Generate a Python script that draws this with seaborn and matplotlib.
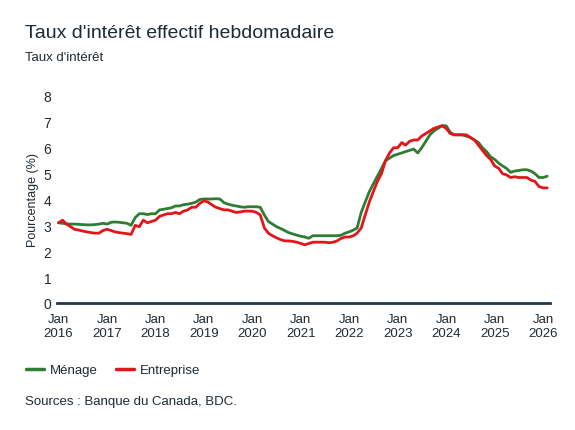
import matplotlib
matplotlib.use("Agg")
import matplotlib.pyplot as plt
import numpy as np
import pandas as pd
import seaborn as sns

# monthly readings, Jan 2016 .. Feb 2026
months = pd.date_range("2016-01-01", "2026-02-01", freq="MS")

menage = [
    3.10, 3.08, 3.06, 3.05, 3.05, 3.04, 3.03, 3.02, 3.02, 3.03, 3.05, 3.08,
    3.05, 3.12, 3.13, 3.12, 3.10, 3.08, 3.00, 3.30, 3.45, 3.45, 3.42, 3.45,
    3.45, 3.60, 3.62, 3.65, 3.68, 3.75, 3.75, 3.80, 3.82, 3.85, 3.90, 4.00,
    4.02, 4.02, 4.02, 4.03, 4.02, 3.88, 3.82, 3.78, 3.75, 3.72, 3.70, 3.72,
    3.72, 3.72, 3.70, 3.40, 3.15, 3.05, 2.95, 2.88, 2.80, 2.72, 2.67, 2.62,
    2.58, 2.55, 2.50, 2.60, 2.60, 2.60, 2.60, 2.60, 2.60, 2.60, 2.62, 2.70,
    2.75, 2.82, 2.90, 3.50, 3.90, 4.30, 4.60, 4.90, 5.20, 5.50, 5.60, 5.70,
    5.75, 5.80, 5.85, 5.90, 5.95, 5.80, 6.00, 6.25, 6.50, 6.65, 6.75, 6.85,
    6.85, 6.60, 6.50, 6.50, 6.50, 6.45, 6.40, 6.30, 6.20, 6.00, 5.85, 5.65,
    5.55, 5.40, 5.30, 5.20, 5.05, 5.10, 5.12, 5.15, 5.15, 5.10, 5.00, 4.85,
    4.85, 4.90,
]

entreprise = [
    3.10, 3.20, 3.05, 2.95, 2.85, 2.82, 2.78, 2.75, 2.72, 2.70, 2.70, 2.80,
    2.85, 2.80, 2.75, 2.72, 2.70, 2.68, 2.65, 3.00, 2.95, 3.20, 3.10, 3.15,
    3.20, 3.35, 3.40, 3.45, 3.45, 3.50, 3.45, 3.55, 3.60, 3.70, 3.70, 3.85,
    3.95, 3.90, 3.80, 3.70, 3.65, 3.60, 3.60, 3.55, 3.50, 3.52, 3.55, 3.55,
    3.55, 3.50, 3.40, 2.90, 2.70, 2.60, 2.52, 2.45, 2.40, 2.40, 2.38, 2.35,
    2.30, 2.25, 2.30, 2.35, 2.35, 2.35, 2.35, 2.33, 2.35, 2.40, 2.50, 2.55,
    2.55, 2.60, 2.70, 2.90, 3.40, 3.90, 4.30, 4.70, 5.00, 5.50, 5.80, 6.00,
    6.00, 6.20, 6.10, 6.25, 6.30, 6.30, 6.45, 6.55, 6.65, 6.75, 6.80, 6.85,
    6.75, 6.55, 6.50, 6.50, 6.50, 6.50, 6.40, 6.30, 6.10, 5.90, 5.70, 5.55,
    5.30, 5.20, 5.00, 4.95, 4.85, 4.88, 4.85, 4.85, 4.85, 4.75, 4.70, 4.50,
    4.45, 4.45,
]

series_names = ["Ménage", "Entreprise"]
colors = {"Ménage": "#2e7d32", "Entreprise": "#e3151a"}

df = pd.DataFrame({"date": months, "Ménage": menage, "Entreprise": entreprise})
long_df = df.melt(id_vars="date", var_name="serie", value_name="taux")

sns.set_style("white")
plt.rcParams["font.family"] = ["Liberation Sans", "DejaVu Sans"]
text_col = "#1f2a33"

fig = plt.figure(figsize=(5.75, 4.31), dpi=100)
ax = fig.add_axes([0.099, 1 - 304 / 431, 0.857, (304 - 97) / 431])

sns.lineplot(data=long_df, x="date", y="taux", hue="serie", hue_order=series_names,
             palette=colors, linewidth=2, ax=ax, legend=False)

ax.set_ylim(0, 8)
ax.set_yticks(range(0, 9))
ax.set_xlim(pd.Timestamp("2015-12-20"), pd.Timestamp("2026-02-20"))
years = pd.date_range("2016-01-01", "2026-01-01", freq="YS")
ax.set_xticks(years)
ax.set_xticklabels([f"Jan\n{d.year}" for d in years])
ax.tick_params(axis="x", direction="in", length=3, width=0.8, color="#8a939b",
               labelsize=9.5, labelcolor=text_col, pad=7)
ax.tick_params(axis="y", length=0, labelsize=10, labelcolor=text_col, pad=4)

for s in ["top", "right", "left"]:
    ax.spines[s].set_visible(False)
ax.spines["bottom"].set_color("#24384a")
ax.spines["bottom"].set_linewidth(2)

ax.set_xlabel("")
ax.set_ylabel("Pourcentage (%)", fontsize=9, color=text_col, labelpad=3)

fig.text(25 / 575, 1 - 33 / 431, "Taux d'intérêt effectif hebdomadaire",
         fontsize=14, color=text_col, va="center", ha="left")
fig.text(25 / 575, 1 - 58 / 431, "Taux d'intérêt", fontsize=9.5,
         color=text_col, va="center", ha="left")

handles = [plt.Line2D([], [], color=colors[n], linewidth=2.5) for n in series_names]
fig.legend(handles, series_names, loc="center left",
           bbox_to_anchor=(14 / 575, 1 - 371 / 431), ncol=2, frameon=False,
           fontsize=9.5, handlelength=1.4, handletextpad=0.4, columnspacing=1.4,
           labelcolor=text_col)

fig.text(25 / 575, 1 - 402 / 431, "Sources : Banque du Canada, BDC.",
         fontsize=9.5, color=text_col, va="center", ha="left")

fig.savefig("out.png", dpi=100)
